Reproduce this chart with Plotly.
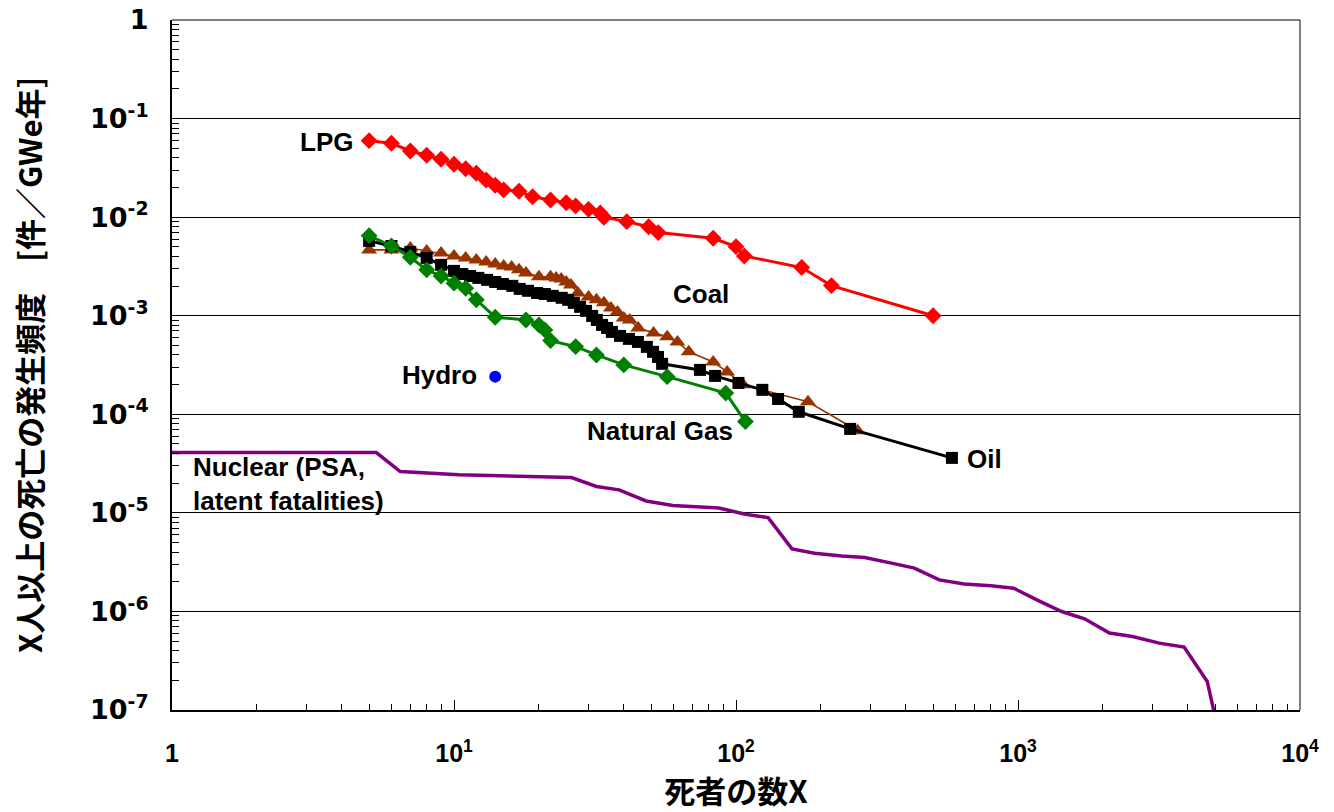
import plotly.graph_objects as go

# ---------------- data ----------------
lpg_x = [5, 6, 7, 8, 9, 10, 11, 12, 13, 14, 15, 17, 19, 22, 25, 27, 30, 33, 34, 41, 49, 53, 83, 100, 107, 171, 218, 500]
lpg_y = [0.0597, 0.0562, 0.0469, 0.0425, 0.0387, 0.0344, 0.0310, 0.0279, 0.0238, 0.0211, 0.0189, 0.0183,
         0.0161, 0.0149, 0.0140, 0.0130, 0.0120, 0.0110, 0.00998, 0.0090, 0.0080, 0.00697, 0.00611,
         0.00502, 0.00404, 0.00308, 0.00202, 0.00100]

gas_x = [5, 6, 7, 8, 9, 10, 11, 12, 14, 18, 20, 21, 22, 27, 32, 40, 57, 92, 108]
gas_y = [0.00649, 0.00510, 0.00392, 0.00292, 0.00253, 0.00214, 0.00190, 0.00145, 0.000966, 0.000906,
         0.000807, 0.000718, 0.000559, 0.000486, 0.000400, 0.000317, 0.000241, 0.000164, 0.0000843]

coal_x = [5, 6, 7, 8, 9, 10, 11, 12, 13, 14, 15, 16, 17, 18, 20, 22, 23, 24, 25, 26, 27.5, 30, 32, 34,
          36, 38, 40, 42, 45, 51, 57, 62, 68, 83, 93, 106, 180, 270]
coal_y = [0.00465, 0.00465, 0.00487, 0.00454, 0.00433, 0.00404, 0.00386, 0.00368, 0.00351, 0.00335,
          0.00320, 0.00312, 0.00292, 0.00272, 0.00248, 0.00248, 0.00242, 0.00236, 0.00220, 0.00205,
          0.00170, 0.00155, 0.00145, 0.00135, 0.00120, 0.00109, 0.000950, 0.000906, 0.000752,
          0.000669, 0.000610, 0.000542, 0.000430, 0.000340, 0.000269, 0.000199, 0.000134, 0.0000680]

oil_x = [5, 6, 7, 8, 9, 10, 10.7, 11.4, 12.2, 13.1, 14, 14.9, 16.1, 17.1, 18.3, 19.7, 21, 22.4, 24.1,
         25.4, 26.6, 28, 29.4, 30.9, 32.1, 33.5, 34.9, 36.3, 38.8, 41.7, 44.9, 48.3, 50.8, 52.9, 54.7,
         74.5, 84.3, 102, 124, 141, 167, 254, 583]
oil_y = [0.00574, 0.00510, 0.00444, 0.00386, 0.00328, 0.00285, 0.00265, 0.00253, 0.00242, 0.00231,
         0.00220, 0.00210, 0.00201, 0.00187, 0.00179, 0.00170, 0.00166, 0.00159, 0.00152, 0.00145,
         0.00135, 0.00123, 0.00112, 0.000995, 0.000906, 0.000807, 0.000752, 0.000685, 0.000624,
         0.000582, 0.000542, 0.000483, 0.000430, 0.000382, 0.000325, 0.000282, 0.000245, 0.000208,
         0.000177, 0.000143, 0.000106, 0.0000711, 0.0000361]

hydro_x = [14]
hydro_y = [0.000241]

nuc_x = [1, 5.3, 6.45, 10.4, 26.1, 32, 38.5, 48, 59.7, 87, 108, 130, 158, 190, 237, 286, 356, 429, 526,
         644, 802, 966, 1166, 1429, 1722, 2110, 2547, 3169, 3882, 4688, 5000]
nuc_y = [4.09e-5, 4.09e-5, 2.62e-5, 2.43e-5, 2.28e-5, 1.85e-5, 1.71e-5, 1.32e-5, 1.19e-5, 1.12e-5,
         9.7e-6, 8.95e-6, 4.31e-6, 3.90e-6, 3.66e-6, 3.52e-6, 3.09e-6, 2.75e-6, 2.09e-6, 1.90e-6,
         1.82e-6, 1.72e-6, 1.31e-6, 9.98e-7, 8.41e-7, 6.03e-7, 5.56e-7, 4.77e-7, 4.35e-7, 1.95e-7, 8.6e-8]

x_tickvals = [1, 10, 100, 1000, 10000]
x_ticktext = ["1", "10<sup>1</sup>", "10<sup>2</sup>", "10<sup>3</sup>", "10<sup>4</sup>"]
y_tickvals = [1, 1e-1, 1e-2, 1e-3, 1e-4, 1e-5, 1e-6, 1e-7]
y_ticktext = ["1", "10<sup>-1</sup>", "10<sup>-2</sup>", "10<sup>-3</sup>", "10<sup>-4</sup>",
              "10<sup>-5</sup>", "10<sup>-6</sup>", "10<sup>-7</sup>"]

# ---------------- figure ----------------
FONT = "Liberation Sans, Arial, sans-serif"
WIDE = "DejaVu Sans, Verdana, sans-serif"
CJK = "Noto Sans CJK JP, sans-serif"

fig = go.Figure()
fig.add_trace(go.Scatter(x=nuc_x, y=nuc_y, mode="lines", name="Nuclear",
                         line=dict(color="#800080", width=3.5)))
fig.add_trace(go.Scatter(x=coal_x, y=coal_y, mode="lines+markers", name="Coal",
                         line=dict(color="#993300", width=1.6),
                         marker=dict(symbol="triangle-up", size=14, color="#993300")))
fig.add_trace(go.Scatter(x=oil_x, y=oil_y, mode="lines+markers", name="Oil",
                         line=dict(color="black", width=3),
                         marker=dict(symbol="square", size=12, color="black")))
fig.add_trace(go.Scatter(x=gas_x, y=gas_y, mode="lines+markers", name="Natural Gas",
                         line=dict(color="#008000", width=3),
                         marker=dict(symbol="diamond", size=13, color="#008000")))
fig.add_trace(go.Scatter(x=lpg_x, y=lpg_y, mode="lines+markers", name="LPG",
                         line=dict(color="#ff0000", width=3),
                         marker=dict(symbol="diamond", size=13, color="#ff0000")))
fig.add_trace(go.Scatter(x=hydro_x, y=hydro_y, mode="markers", name="Hydro",
                         marker=dict(symbol="circle", size=12, color="#0000ff")))

x_minor = [m * 10 ** d for d in range(0, 4) for m in range(2, 10)]
y_minor = [m * 10 ** d for d in range(-7, 0) for m in range(2, 10)]

fig.update_xaxes(type="log", range=[0, 4], showgrid=False, zeroline=False, automargin=False,
                 showline=True, linecolor="black", linewidth=2,
                 tickmode="array", tickvals=x_tickvals, ticktext=x_ticktext,
                 ticks="inside", ticklen=10, tickcolor="black", tickwidth=1,
                 ticklabelstandoff=20,
                 minor=dict(tickmode="array", tickvals=x_minor, ticks="inside", ticklen=6,
                            tickcolor="black", showgrid=False),
                 tickfont=dict(family=FONT, size=25, color="black", weight="bold"),
                 title=dict(text="死者の数X", standoff=22,
                            font=dict(family=CJK, size=31, color="black", weight="bold")))
fig.update_yaxes(type="log", range=[-7, 0], showgrid=True, gridcolor="black", gridwidth=1,
                 zeroline=False, showline=True, linecolor="black", linewidth=2, automargin=False,
                 tickmode="array", tickvals=y_tickvals, ticktext=y_ticktext,
                 ticks="inside", ticklen=8, tickcolor="black", tickwidth=1,
                 ticklabelstandoff=16,
                 minor=dict(tickmode="array", tickvals=y_minor, ticks="inside", ticklen=7,
                            tickcolor="black", showgrid=False),
                 tickfont=dict(family=WIDE, size=27, color="black", weight="bold"),
                 title=dict(text="X人以上の死亡の発生頻度　[件／GWe年]", standoff=38,
                            font=dict(family=CJK, size=31, color="black", weight="bold")))

# frame top and right
fig.add_shape(type="line", xref="paper", yref="paper", x0=0, x1=1, y0=1, y1=1,
              line=dict(color="black", width=1))
fig.add_shape(type="line", xref="paper", yref="paper", x0=1, x1=1, y0=0, y1=1,
              line=dict(color="black", width=1))
# Coal leader line (log coordinates)
fig.add_shape(type="line", xref="x", yref="y", x0=1.879, x1=1.879, y0=-2.972, y1=-3.398,
              line=dict(color="black", width=1))

lab = dict(family=FONT, size=26, color="black", weight="bold")
def ann(text, x, y, xanchor="center", align="center"):
    fig.add_annotation(text=text, x=x, y=y, xref="x", yref="y", showarrow=False,
                       xanchor=xanchor, yanchor="middle", align=align, font=lab)

ann("LPG", 0.649, -1.237, xanchor="right")
ann("Coal", 1.875, -2.779)
ann("Hydro", 0.950, -3.600)
ann("Natural Gas", 1.730, -4.168)
ann("Oil", 2.812, -4.452, xanchor="left")
ann("Nuclear (PSA,<br>latent fatalities)", 0.068, -4.706, xanchor="left", align="left")

fig.update_layout(width=1334, height=812, autosize=False,
                  margin=dict(l=172, r=34, t=20, b=102),
                  plot_bgcolor="white", paper_bgcolor="white", showlegend=False)

fig.write_html("out.html")
